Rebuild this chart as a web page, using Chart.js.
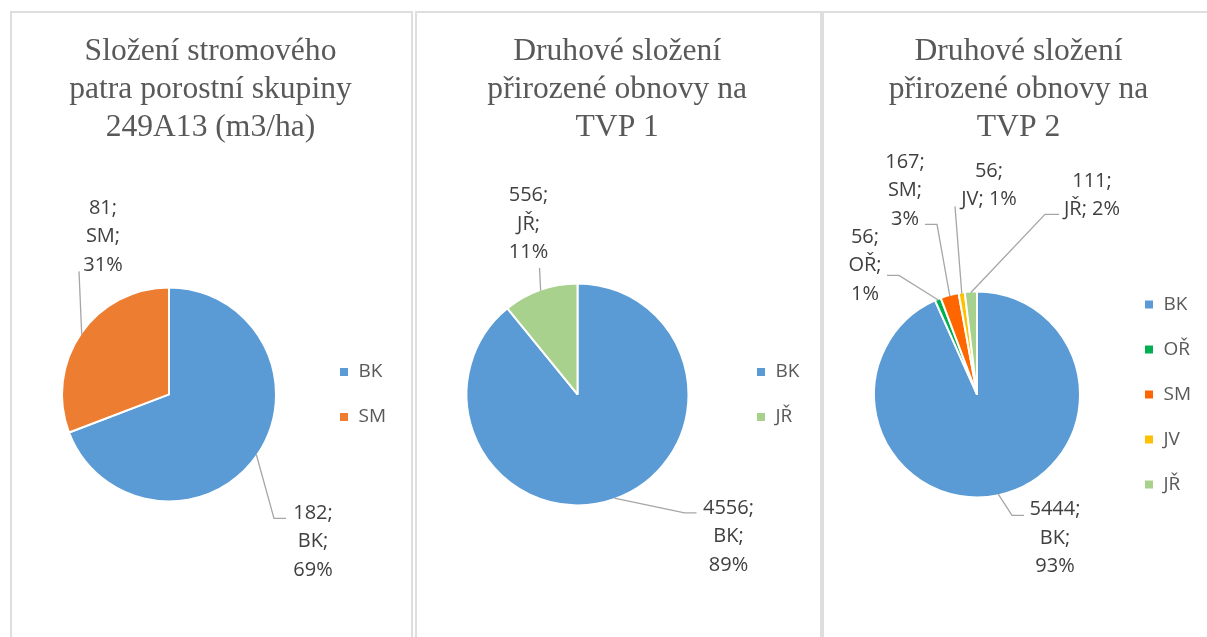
<!DOCTYPE html>
<html lang="cs">
<head>
<meta charset="utf-8">
<title>Složení porostu a přirozené obnovy</title>
<script src="https://cdn.jsdelivr.net/npm/chart.js@4.4.1/dist/chart.umd.min.js"></script>
<style>
  html, body { margin: 0; padding: 0; background: #fff; }
  body { position: relative; width: 1207px; height: 637px; overflow: hidden; }
  .panel { position: absolute; box-sizing: border-box; border: 2px solid #dedede; height: 700px; }
  canvas { position: absolute; }
</style>
</head>
<body>
<div class="panel" style="left:10px;top:11px;width:403px;"></div>
<div class="panel" style="left:415px;top:11px;width:407px;"></div>
<div class="panel" style="left:822px;top:11px;width:420px;"></div>
<canvas id="c1" width="400" height="624" style="left:12px;top:13px"></canvas>
<canvas id="c2" width="403" height="624" style="left:417px;top:13px"></canvas>
<canvas id="c3" width="394" height="624" style="left:824px;top:13px"></canvas>
<script>
// --- data ---
const title1 = ['Složení stromového', 'patra porostní skupiny', '249A13 (m3/ha)'];
const species1 = ['BK', 'SM'];
const volume1 = [182, 81];

const title2 = ['Druhové složení', 'přirozené obnovy na', 'TVP 1'];
const species2 = ['BK', 'JŘ'];
const count2 = [4556, 556];

const title3 = ['Druhové složení', 'přirozené obnovy na', 'TVP 2'];
const species3 = ['BK', 'OŘ', 'SM', 'JV', 'JŘ'];
const count3 = [5444, 56, 167, 56, 111];

// --- styling ---
const colors1 = ['#5b9bd5', '#ed7d31'];
const colors2 = ['#5b9bd5', '#a9d18e'];
const colors3 = ['#5b9bd5', '#00b050', '#ff6600', '#ffc000', '#a9d18e'];

const INK = '#595959';
const LABEL_INK = '#404040';
const LEADER = '#a6a6a6';
const SANS = "'Open Sans', sans-serif";
const LEGEND_FONT = 19;
const LEGEND_PAD = 26;
const LEGEND_BOX = 10;

Chart.defaults.font.family = SANS;

// label block centre and leader path, offsets from the pie centre (px)
const places1 = [
  { at: [144, 147], path: [[105, 124], [117, 124]] },
  { at: [-66, -158], path: [[-90, -123]] },
];
const places2 = [
  { at: [151, 142], path: [[107, 118.5], [119, 118.5]] },
  { at: [-49, -170.5], path: [[-38, -126.5]] },
];
const places3 = [
  { at: [78, 143.5], path: [[35, 121], [47, 121]] },
  { at: [-112, -129], path: [[-78, -119], [-90, -119]] },
  { at: [-72, -204], path: [[-40, -170], [-52, -170]] },
  { at: [12, -209], path: [[-22, -188]], rows: 2 },
  { at: [115, -199], path: [[68, -180], [82, -180]], rows: 2 },
];

// Excel-like data labels: "value; name; pct%" with leader lines
const pieLabels = {
  id: 'pieLabels',
  afterDatasetsDraw(chart, args, opts) {
    const ctx = chart.ctx;
    const ds = chart.data.datasets[0];
    const total = ds.data.reduce((a, b) => a + b, 0);
    const meta = chart.getDatasetMeta(0);
    ctx.save();
    meta.data.forEach((arc, i) => {
      const place = opts.places[i];
      if (!place) return;
      const p = arc.getProps(['x', 'y', 'startAngle', 'endAngle', 'outerRadius'], true);
      const mid = (p.startAngle + p.endAngle) / 2;
      const r = p.outerRadius - 1;

      ctx.beginPath();
      ctx.moveTo(p.x + Math.cos(mid) * r, p.y + Math.sin(mid) * r);
      place.path.forEach(([dx, dy]) => ctx.lineTo(p.x + dx, p.y + dy));
      ctx.strokeStyle = LEADER;
      ctx.lineWidth = 1.3;
      ctx.stroke();

      const parts = [
        `${ds.data[i]};`,
        `${chart.data.labels[i]};`,
        `${Math.round(ds.data[i] / total * 100)}%`,
      ];
      const lines = place.rows === 2 ? [parts[0], parts[1] + ' ' + parts[2]] : parts;
      ctx.font = `20px ${SANS}`;
      ctx.fillStyle = LABEL_INK;
      ctx.textAlign = 'center';
      ctx.textBaseline = 'middle';
      lines.forEach((t, k) => {
        ctx.fillText(t, p.x + place.at[0], p.y + place.at[1] + (k - (lines.length - 1) / 2) * 28.5);
      });
    });
    ctx.restore();
  },
};

// width Chart.js gives a vertical legend: padding + box + font/2 + text + 10
function legendWidth(canvas, labels) {
  const ctx = canvas.getContext('2d');
  ctx.font = `${LEGEND_FONT}px ${SANS}`;
  const tw = Math.max(...labels.map((l) => ctx.measureText(l).width));
  return LEGEND_PAD + LEGEND_BOX + LEGEND_FONT / 2 + tw + 10;
}

// markerX / pieX are page x positions wanted for the legend squares and pie centre
function makePie(id, title, labels, values, colors, cfg) {
  const canvas = document.getElementById(id);
  const left = canvas.offsetLeft;
  const W = canvas.width;
  const lw = legendWidth(canvas, labels);
  const legendLeft = cfg.markerX - LEGEND_PAD - 1 - left;
  const padR = W - legendLeft - lw;
  const padL = 2 * (cfg.pieX - left) - legendLeft;

  return new Chart(canvas, {
    type: 'pie',
    data: {
      labels,
      datasets: [{
        data: values,
        backgroundColor: colors,
        borderColor: '#ffffff',
        borderWidth: 2,
        radius: cfg.radius,
      }],
    },
    options: {
      responsive: false,
      animation: false,
      events: [],
      layout: { padding: { left: padL, right: padR, top: 0, bottom: 5 } },
      plugins: {
        title: {
          display: true,
          text: title,
          color: INK,
          font: { family: "'Liberation Serif', 'Times New Roman', serif", size: 31.6, weight: 'normal', lineHeight: 1.2 },
          padding: { top: 20, bottom: 10 },
        },
        legend: {
          position: 'right',
          fullSize: false,
          labels: {
            boxWidth: LEGEND_BOX,
            boxHeight: LEGEND_BOX,
            padding: LEGEND_PAD,
            color: INK,
            font: { size: LEGEND_FONT },
          },
        },
        tooltip: { enabled: false },
        pieLabels: { places: cfg.places },
      },
    },
    plugins: [pieLabels],
  });
}

makePie('c1', title1, species1, volume1, colors1, { markerX: 340, pieX: 169, radius: 107, places: places1 });
makePie('c2', title2, species2, count2, colors2, { markerX: 757, pieX: 577.5, radius: 111, places: places2 });
makePie('c3', title3, species3, count3, colors3, { markerX: 1145, pieX: 977, radius: 103, places: places3 });
</script>
</body>
</html>
